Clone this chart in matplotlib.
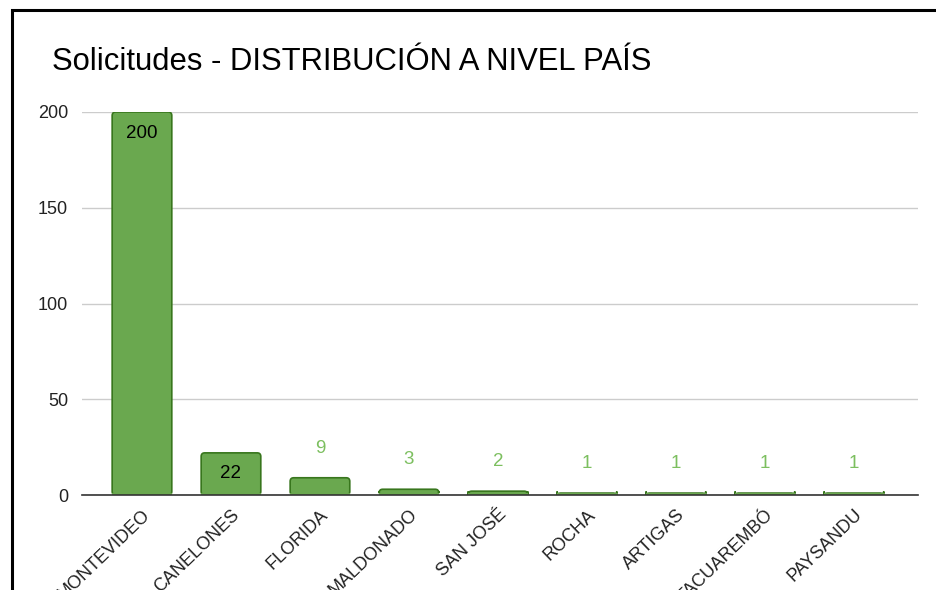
import matplotlib
matplotlib.use("Agg")
import matplotlib.pyplot as plt
import matplotlib.transforms as mtransforms
from matplotlib.patches import FancyBboxPatch, Rectangle

categories = ["MONTEVIDEO", "CANELONES", "FLORIDA", "MALDONADO", "SAN JOSÉ",
              "ROCHA", "ARTIGAS", "TACUAREMBÓ", "PAYSANDU"]
values = [200, 22, 9, 3, 2, 1, 1, 1, 1]
yticks = [0, 50, 100, 150, 200]
title = "Solicitudes - DISTRIBUCIÓN A NIVEL PAÍS"

plt.rcParams['font.family'] = ['Liberation Sans', 'DejaVu Sans']

W, H = 936, 590
fig = plt.figure(figsize=(W / 100, H / 100), dpi=100)
ax = fig.add_axes([82 / W, 1 - 495 / H, (918 - 82) / W, (495 - 112) / H])

bar_face = "#6aa84f"
bar_edge = "#38761d"
width = 0.67
xs = list(range(len(categories)))
ax.set_xlim(-0.674, 8.72)
ax.set_ylim(0, 200)

bars = ax.bar(xs, values, width=width, color=bar_face, edgecolor=bar_edge, linewidth=1.2, zorder=3)
for b in bars:
    x0, y0 = b.get_x(), b.get_y()
    w, h = b.get_width(), b.get_height()
    b.set_visible(False)
    rp = FancyBboxPatch((x0, y0), w, h,
                        boxstyle="round,pad=0,rounding_size=0.04",
                        mutation_aspect=200 / (495 - 112) * (836 / 9.394),
                        facecolor=bar_face, edgecolor=bar_edge, linewidth=1.2, zorder=3)
    ax.add_patch(rp)
    if h > 0:
        ax.add_patch(Rectangle((x0, y0), w, min(h, 1.0), facecolor=bar_face,
                               edgecolor='none', zorder=3.5))

for x, v in zip(xs, values):
    if v >= 20:
        ax.annotate(str(v), (x, v), xytext=(0, -9), textcoords="offset points",
                    ha="center", va="top", fontsize=13.5, color="#000000", zorder=5)
    else:
        ax.annotate(str(v), (x, v), xytext=(0, 15), textcoords="offset points",
                    ha="center", va="bottom", fontsize=13.5, color="#7cbf5f", zorder=5)

ax.set_yticks(yticks)
ax.set_yticklabels([str(t) for t in yticks], fontsize=13, color="#222222")
ax.set_xticks(xs)
ax.set_xticklabels(categories, rotation=44, ha="right", rotation_mode="anchor",
                   fontsize=13, color="#222222")
offset = mtransforms.ScaledTranslation(12 / 72, 0, fig.dpi_scale_trans)
for lbl in ax.get_xticklabels():
    lbl.set_transform(lbl.get_transform() + offset)
ax.tick_params(axis="both", length=0)
ax.tick_params(axis="y", pad=10)
ax.tick_params(axis="x", pad=8)
ax.grid(axis="y", color="#cccccc", linewidth=1, zorder=0)
ax.set_axisbelow(True)
for s in ["left", "right", "top"]:
    ax.spines[s].set_visible(False)
ax.spines["bottom"].set_color("#333333")
ax.spines["bottom"].set_linewidth(1.2)
ax.spines["bottom"].set_zorder(4)

fig.text(52 / W, 1 - 62 / H, title, fontsize=22.3, va="center", ha="left", color="#000000")

fig.patches.append(Rectangle((12 / W, -0.1), 1.2, 1 - 10 / H + 0.1, transform=fig.transFigure,
                             fill=False, edgecolor="#000000", linewidth=2.2, figure=fig))

fig.savefig("out.png", dpi=100)
